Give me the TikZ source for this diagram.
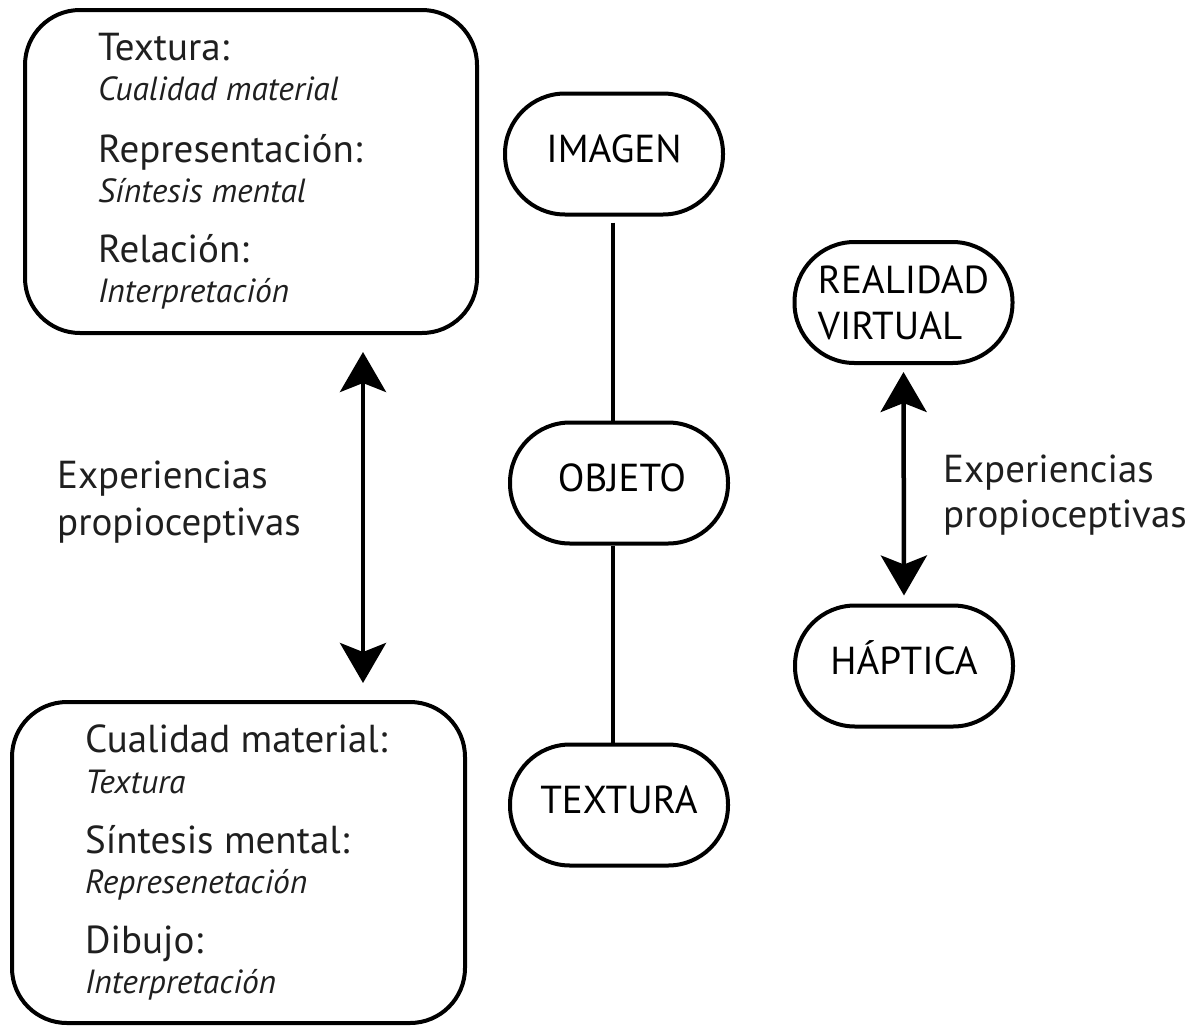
\documentclass[tikz,border=0pt]{standalone}
\usepackage{fontspec}
\setmainfont{PT Sans}
\usetikzlibrary{arrows.meta}
\begin{document}
\begin{tikzpicture}[x=1pt,y=-1pt,
  ink/.style={line width=4pt,draw=black},
  bigbox/.style={ink,rectangle,rounded corners=55pt,inner sep=0pt},
  pill/.style={ink,rectangle,rounded corners=60pt,minimum width=218pt,minimum height=121pt,
    inner sep=0pt,font=\fontsize{39}{47}\selectfont,text height=28pt,text depth=12pt},
  head/.style={anchor=base west,inner sep=0pt,font=\fontsize{39}{47}\selectfont,text=black!88},
  sub/.style={anchor=base west,inner sep=0pt,font=\fontsize{33.5}{40}\selectfont\itshape,text=black!88},
  twoway/.style={line width=4.5pt,{Stealth[length=40pt,width=46pt,inset=9pt]}-{Stealth[length=40pt,width=46pt,inset=9pt]}},
  link/.style={line width=4pt}]
\useasboundingbox (0,0) rectangle (1204,1028);

% left column: two rounded boxes of definitions
\node[bigbox,minimum width=452pt,minimum height=323pt] (boxA) at (251,171.5) {};
\node[bigbox,minimum width=453pt,minimum height=321pt] (boxB) at (238.5,862.5) {};

\node[head] (a1) at (98,60)  {Textura:};
\node[sub]  (a2) at (98,100) {Cualidad material};
\node[head] (a3) at (98,162) {Representación:};
\node[sub]  (a4) at (98,202) {Síntesis mental};
\node[head] (a5) at (98,262) {Relación:};
\node[sub]  (a6) at (98,302) {Interpretación};

\node[head] (b1) at (85,752) {Cualidad material:};
\node[sub]  (b2) at (85,793) {Textura};
\node[head] (b3) at (85,853) {Síntesis mental:};
\node[sub]  (b4) at (85,893) {Represenetación};
\node[head] (b5) at (85,953) {Dibujo:};
\node[sub]  (b6) at (85,993) {Interpretación};

% double arrow between the boxes
\coordinate (arrL) at (363,0);
\draw[twoway,shorten <=17pt,shorten >=17pt] (arrL |- boxA.south) -- (arrL |- boxB.north);
\node[head] (la1) at (57,488) {Experiencias};
\node[head] (la2) at (57,535) {propioceptivas};

% central chain
\node[pill] (img) at (614,154) {IMAGEN};
\node[pill] (obj) at (619,483) {\hspace{6pt}OBJETO};
\node[pill] (tex) at (619,805) {TEXTURA};
\coordinate (lineX) at (613,0);
\draw[link,shorten <=6pt] (lineX |- img.south) -- (lineX |- obj.north);
\draw[link] (lineX |- obj.south) -- (lineX |- tex.north);

% right column
\node[pill,align=left,text height=,text depth=,font=\fontsize{39}{46}\selectfont] (rv) at (903.5,302.5) {REALIDAD\\VIRTUAL};
\node[pill] (hap) at (904,666) {HÁPTICA};
\draw[twoway,shorten <=7pt,shorten >=8pt] (rv.south) -- (hap.north);
\node[head] (lb1) at (943,482) {Experiencias};
\node[head] (lb2) at (943,527) {propioceptivas};
\end{tikzpicture}
\end{document}
